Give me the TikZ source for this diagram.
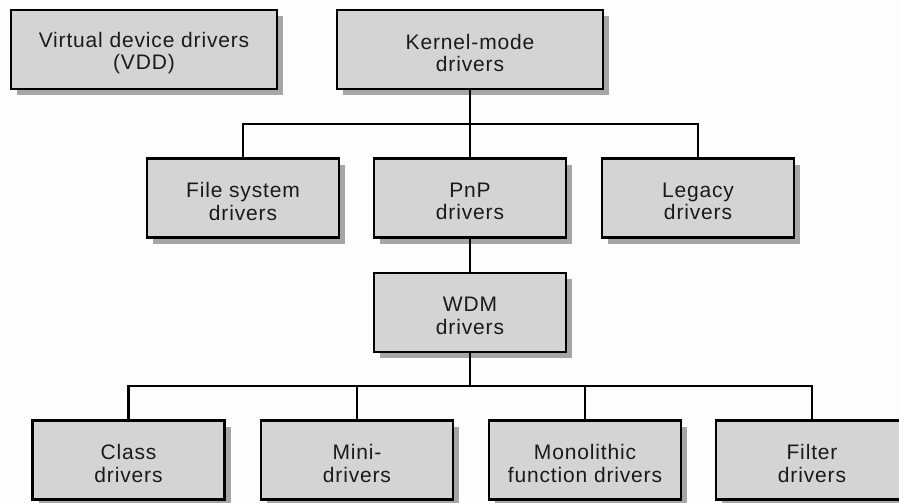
\documentclass[tikz,border=0pt]{standalone}
\usepackage{fontspec}
\setmainfont{Liberation Sans}[LetterSpace=4]
\usetikzlibrary{shadows}
\definecolor{boxfill}{HTML}{D4D4D4}
\definecolor{shade}{HTML}{A6A6A6}
\definecolor{paper}{HTML}{FDFDFD}
\definecolor{ink}{HTML}{1A1A1A}
\begin{document}
\begin{tikzpicture}[x=1pt,y=-1pt,
  caption/.style={align=center, text=ink, inner sep=0pt, yshift=-3.5pt,
    font=\fontsize{21}{22.5}\selectfont},
  drv/.style={draw=black, line width=2.8pt, fill=boxfill,
    minimum width=192pt, minimum height=79pt, inner sep=0pt,
    label={[caption]center:{#1}},
    drop shadow={shadow xshift=6pt, shadow yshift=-6pt, fill=shade, opacity=1}},
  wide/.style={drv={#1}, minimum width=266pt},
  link/.style={line width=2.4pt, line cap=rect}]
\useasboundingbox (0,0) rectangle (899,503);
\clip (0,0) rectangle (899,503);
\fill[paper] (0,0) rectangle (899,503);

% top row
\node[wide={Virtual device drivers\\(VDD)}] (vdd)  at (144,49.5) {};
\node[wide={Kernel-mode\\drivers}]          (kern) at (470,49.5) {};

% second row
\node[drv={File system\\drivers}] (fs)     at (243,198) {};
\node[drv={PnP\\drivers}]         (pnp)    at (470,198) {};
\node[drv={Legacy\\drivers}]      (legacy) at (698,198) {};

% WDM
\node[drv={WDM\\drivers}] (wdm) at (470,312.5) {};

% bottom row
\node[drv={Class\\drivers}]                 (cls)    at (128.5,460) {};
\node[drv={Mini-\\drivers}]                 (mini)   at (357,460)   {};
\node[drv={Monolithic\\function drivers}]   (mono)   at (585,460)   {};
\node[drv={Filter\\drivers}]                (filter) at (812,460)   {};

% connectors
\coordinate (bus1) at (470,124);
\coordinate (bus2) at (470,386);
\draw[link] (kern.south) -- (pnp.north);
\draw[link] (fs.north) |- (bus1) -| (legacy.north);
\draw[link] (pnp.south) -- (wdm.north);
\draw[link] (wdm.south) -- (bus2);
\draw[link] (cls.north) |- (bus2) -| (filter.north);
\draw[link] (mini.north) |- (bus2);
\draw[link] (mono.north) |- (bus2);
\end{tikzpicture}
\end{document}
